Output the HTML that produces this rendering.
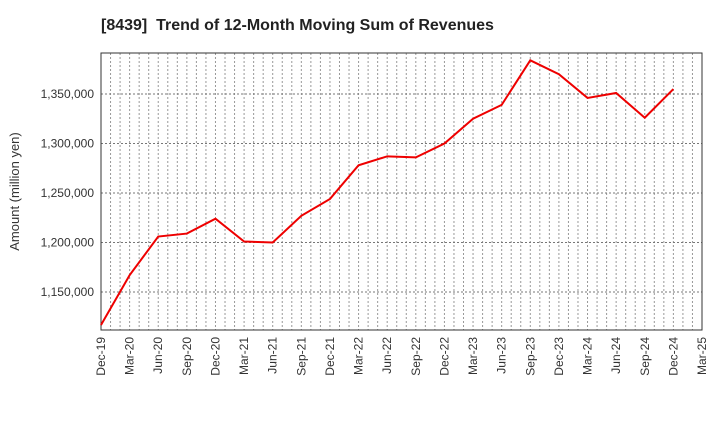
<!DOCTYPE html>
<html><head><meta charset="utf-8"><style>
body{margin:0;background:#fff;font-family:"Liberation Sans",sans-serif}
</style></head><body>
<svg id="c" width="720" height="440" xmlns="http://www.w3.org/2000/svg"></svg>
<script>
const categories=["Dec-19","Mar-20","Jun-20","Sep-20","Dec-20","Mar-21","Jun-21","Sep-21","Dec-21","Mar-22","Jun-22","Sep-22","Dec-22","Mar-23","Jun-23","Sep-23","Dec-23","Mar-24","Jun-24","Sep-24","Dec-24"];
const revenues=[1116700,1167000,1206000,1209000,1224000,1201000,1200000,1227000,1244000,1278000,1287000,1286000,1300000,1325000,1339000,1384000,1370000,1346000,1351000,1326000,1355000];
const xTickLabels=["Dec-19","Mar-20","Jun-20","Sep-20","Dec-20","Mar-21","Jun-21","Sep-21","Dec-21","Mar-22","Jun-22","Sep-22","Dec-22","Mar-23","Jun-23","Sep-23","Dec-23","Mar-24","Jun-24","Sep-24","Dec-24","Mar-25"];
const yTicks=[1150000,1200000,1250000,1300000,1350000];
const yMin=1111600,yMax=1391400;
const L=101,R=702,T=53,B=330;
const NS="http://www.w3.org/2000/svg";
const svg=document.getElementById('c');
const step=(R-L)/(xTickLabels.length-1);
const x=i=>L+i*step;
const y=v=>B-(v-yMin)/(yMax-yMin)*(B-T);
function mk(t,a){const e=document.createElementNS(NS,t);for(const k in a)e.setAttribute(k,a[k]);svg.appendChild(e);return e;}
const title=mk('text',{x:101,y:30,'text-anchor':'start','font-size':16,'font-weight':'bold',fill:'#222','xml:space':'preserve'});


title.style.whiteSpace='pre';
title.textContent='[8439]  Trend of 12-Month Moving Sum of Revenues';
for(let m=1;m<(xTickLabels.length-1)*3;m++){
  const gx=L+m*step/3;
  const g=mk('line',{x1:gx,x2:gx,y1:T,y2:B,stroke:'#999','stroke-width':1,'stroke-dasharray':'2,2'});
  
  
}
yTicks.forEach(v=>{
  const g=mk('line',{x1:L,x2:R,y1:y(v),y2:y(v),stroke:'#777','stroke-width':1,'stroke-dasharray':'2,2'});
  
  
  const t=mk('text',{x:L-7,y:y(v)+4,'text-anchor':'end','font-size':12,fill:'#333'});
  
  
  t.textContent=v.toLocaleString('en-US');
});
xTickLabels.forEach((s,i)=>{
  const t=mk('text',{transform:`translate(${x(i)+4},${B+7}) rotate(-90)`,'text-anchor':'end','font-size':12,fill:'#333'});
  
  
  t.textContent=s;
});
const fr=mk('rect',{x:L,y:T,width:R-L,height:B-T,fill:'none',stroke:'#333','stroke-width':1});


const yt=mk('text',{transform:`translate(19,${(T+B)/2}) rotate(-90)`,'text-anchor':'middle','font-size':13,fill:'#333'});


yt.textContent='Amount (million yen)';
const ln=mk('polyline',{points:revenues.map((v,i)=>x(i)+','+y(v)).join(' '),fill:'none',stroke:'#e00','stroke-width':2});


</script>
</body></html>
